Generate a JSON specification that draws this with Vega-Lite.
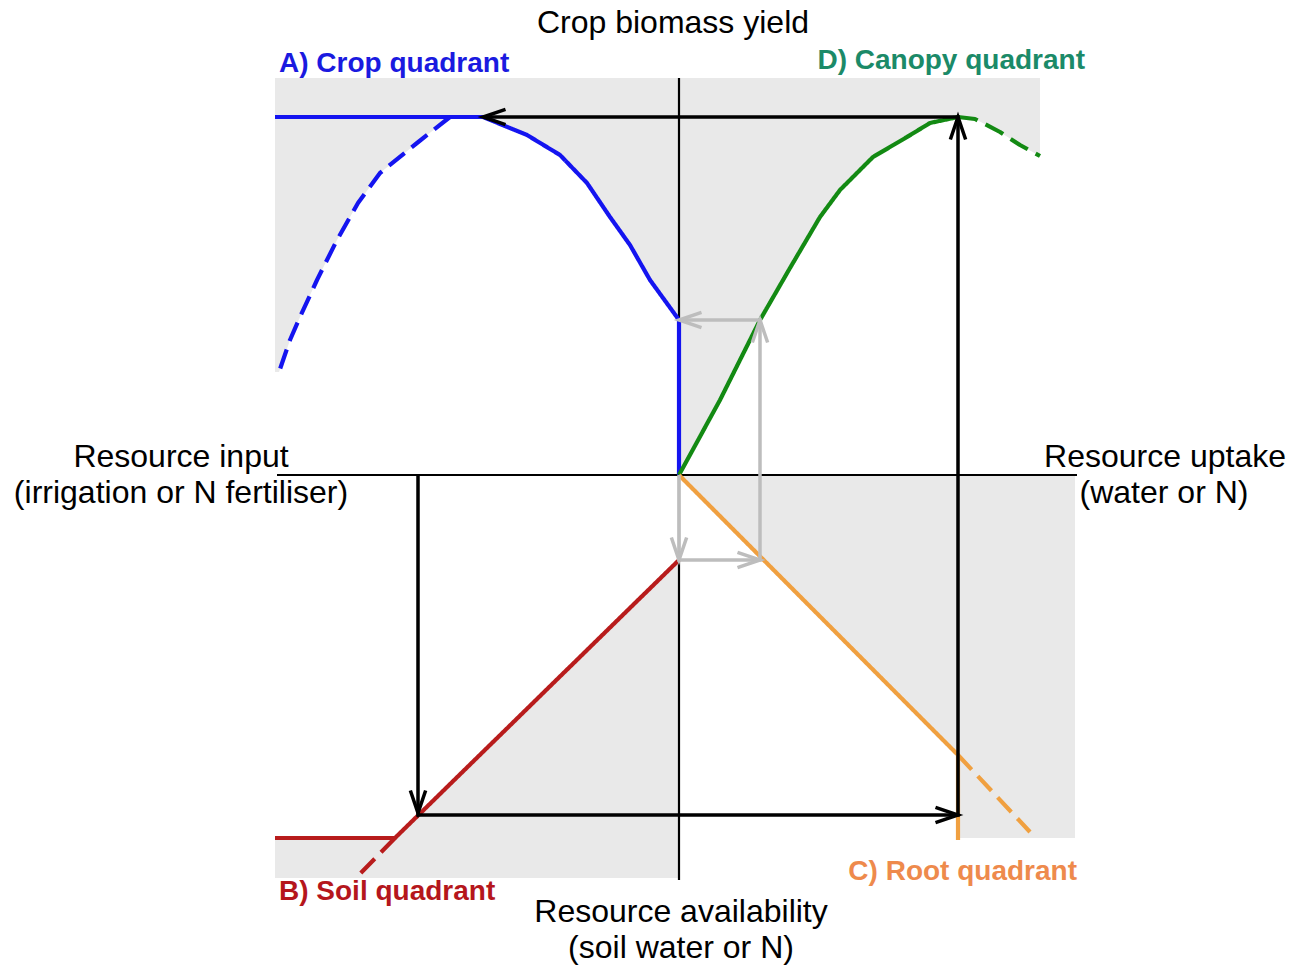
{
  "$schema": "https://vega.github.io/schema/vega-lite/v6.json",
  "width": 1303,
  "height": 967,
  "autosize": {"type": "fit", "contains": "padding"},
  "padding": 0,
  "background": "#ffffff",
  "config": {"view": {"stroke": null}, "font": "Liberation Sans"},
  "datasets": {
    "regions": [
      {"region": "A", "i": 0, "x": -404, "y": 397},
      {"region": "A", "i": 1, "x": 0, "y": 397},
      {"region": "A", "i": 2, "x": 0, "y": 155},
      {"region": "A", "i": 3, "x": -29, "y": 195},
      {"region": "A", "i": 4, "x": -49, "y": 230},
      {"region": "A", "i": 5, "x": -69, "y": 258},
      {"region": "A", "i": 6, "x": -92, "y": 292},
      {"region": "A", "i": 7, "x": -119, "y": 320},
      {"region": "A", "i": 8, "x": -152, "y": 340},
      {"region": "A", "i": 9, "x": -196, "y": 358},
      {"region": "A", "i": 10, "x": -229, "y": 358},
      {"region": "A", "i": 11, "x": -262, "y": 332},
      {"region": "A", "i": 12, "x": -299, "y": 302},
      {"region": "A", "i": 13, "x": -321, "y": 272},
      {"region": "A", "i": 14, "x": -342, "y": 235},
      {"region": "A", "i": 15, "x": -362, "y": 195},
      {"region": "A", "i": 16, "x": -379, "y": 158},
      {"region": "A", "i": 17, "x": -389, "y": 135},
      {"region": "A", "i": 18, "x": -400, "y": 103},
      {"region": "A", "i": 19, "x": -404, "y": 103},
      {"region": "D", "i": 0, "x": 0, "y": 397},
      {"region": "D", "i": 1, "x": 361, "y": 397},
      {"region": "D", "i": 2, "x": 361, "y": 319},
      {"region": "D", "i": 3, "x": 341, "y": 330},
      {"region": "D", "i": 4, "x": 321, "y": 343},
      {"region": "D", "i": 5, "x": 296, "y": 356},
      {"region": "D", "i": 6, "x": 279, "y": 358},
      {"region": "D", "i": 7, "x": 251, "y": 352},
      {"region": "D", "i": 8, "x": 228, "y": 338},
      {"region": "D", "i": 9, "x": 194, "y": 318},
      {"region": "D", "i": 10, "x": 161, "y": 285},
      {"region": "D", "i": 11, "x": 141, "y": 258},
      {"region": "D", "i": 12, "x": 111, "y": 207},
      {"region": "D", "i": 13, "x": 81, "y": 155},
      {"region": "D", "i": 14, "x": 41, "y": 75},
      {"region": "D", "i": 15, "x": 0, "y": 0},
      {"region": "C", "i": 0, "x": 0, "y": 0},
      {"region": "C", "i": 1, "x": 396, "y": 0},
      {"region": "C", "i": 2, "x": 396, "y": -363},
      {"region": "C", "i": 3, "x": 279, "y": -363},
      {"region": "C", "i": 4, "x": 279, "y": -280},
      {"region": "B", "i": 0, "x": 0, "y": -85},
      {"region": "B", "i": 1, "x": 0, "y": -403},
      {"region": "B", "i": 2, "x": -404, "y": -403},
      {"region": "B", "i": 3, "x": -404, "y": -363},
      {"region": "B", "i": 4, "x": -284, "y": -363}
    ],
    "axes": [
      {"axis": "yield", "i": 0, "x": 0, "y": 397},
      {"axis": "yield", "i": 1, "x": 0, "y": -405},
      {"axis": "resource", "i": 0, "x": -402, "y": 0},
      {"axis": "resource", "i": 1, "x": 398, "y": 0}
    ],
    "curves": [
      {"curve": "A1", "quadrant": "A", "style": "solid", "i": 0, "x": -404, "y": 358},
      {"curve": "A1", "quadrant": "A", "style": "solid", "i": 1, "x": -196, "y": 358},
      {"curve": "A1", "quadrant": "A", "style": "solid", "i": 2, "x": -152, "y": 340},
      {"curve": "A1", "quadrant": "A", "style": "solid", "i": 3, "x": -119, "y": 320},
      {"curve": "A1", "quadrant": "A", "style": "solid", "i": 4, "x": -92, "y": 292},
      {"curve": "A1", "quadrant": "A", "style": "solid", "i": 5, "x": -69, "y": 258},
      {"curve": "A1", "quadrant": "A", "style": "solid", "i": 6, "x": -49, "y": 230},
      {"curve": "A1", "quadrant": "A", "style": "solid", "i": 7, "x": -29, "y": 195},
      {"curve": "A1", "quadrant": "A", "style": "solid", "i": 8, "x": 0, "y": 155},
      {"curve": "A1", "quadrant": "A", "style": "solid", "i": 9, "x": 0, "y": 0},
      {"curve": "A2", "quadrant": "A", "style": "dashed", "i": 0, "x": -229, "y": 358},
      {"curve": "A2", "quadrant": "A", "style": "dashed", "i": 1, "x": -262, "y": 332},
      {"curve": "A2", "quadrant": "A", "style": "dashed", "i": 2, "x": -299, "y": 302},
      {"curve": "A2", "quadrant": "A", "style": "dashed", "i": 3, "x": -321, "y": 272},
      {"curve": "A2", "quadrant": "A", "style": "dashed", "i": 4, "x": -342, "y": 235},
      {"curve": "A2", "quadrant": "A", "style": "dashed", "i": 5, "x": -362, "y": 195},
      {"curve": "A2", "quadrant": "A", "style": "dashed", "i": 6, "x": -379, "y": 158},
      {"curve": "A2", "quadrant": "A", "style": "dashed", "i": 7, "x": -389, "y": 135},
      {"curve": "A2", "quadrant": "A", "style": "dashed", "i": 8, "x": -400, "y": 103},
      {"curve": "D1", "quadrant": "D", "style": "solid", "i": 0, "x": 0, "y": 0},
      {"curve": "D1", "quadrant": "D", "style": "solid", "i": 1, "x": 41, "y": 75},
      {"curve": "D1", "quadrant": "D", "style": "solid", "i": 2, "x": 81, "y": 155},
      {"curve": "D1", "quadrant": "D", "style": "solid", "i": 3, "x": 111, "y": 207},
      {"curve": "D1", "quadrant": "D", "style": "solid", "i": 4, "x": 141, "y": 258},
      {"curve": "D1", "quadrant": "D", "style": "solid", "i": 5, "x": 161, "y": 285},
      {"curve": "D1", "quadrant": "D", "style": "solid", "i": 6, "x": 194, "y": 318},
      {"curve": "D1", "quadrant": "D", "style": "solid", "i": 7, "x": 228, "y": 338},
      {"curve": "D1", "quadrant": "D", "style": "solid", "i": 8, "x": 251, "y": 352},
      {"curve": "D1", "quadrant": "D", "style": "solid", "i": 9, "x": 279, "y": 358},
      {"curve": "D2", "quadrant": "D", "style": "dashed", "i": 0, "x": 279, "y": 358},
      {"curve": "D2", "quadrant": "D", "style": "dashed", "i": 1, "x": 296, "y": 356},
      {"curve": "D2", "quadrant": "D", "style": "dashed", "i": 2, "x": 321, "y": 343},
      {"curve": "D2", "quadrant": "D", "style": "dashed", "i": 3, "x": 341, "y": 330},
      {"curve": "D2", "quadrant": "D", "style": "dashed", "i": 4, "x": 361, "y": 319},
      {"curve": "C1", "quadrant": "C", "style": "solid", "i": 0, "x": 0, "y": 0},
      {"curve": "C1", "quadrant": "C", "style": "solid", "i": 1, "x": 279, "y": -280},
      {"curve": "C1", "quadrant": "C", "style": "solid", "i": 2, "x": 279, "y": -365},
      {"curve": "C2", "quadrant": "C", "style": "dashed", "i": 0, "x": 279, "y": -280},
      {"curve": "C2", "quadrant": "C", "style": "dashed", "i": 1, "x": 351, "y": -357},
      {"curve": "B1", "quadrant": "B", "style": "solid", "i": 0, "x": 0, "y": -85},
      {"curve": "B1", "quadrant": "B", "style": "solid", "i": 1, "x": -284, "y": -363},
      {"curve": "B1", "quadrant": "B", "style": "solid", "i": 2, "x": -404, "y": -363},
      {"curve": "B2", "quadrant": "B", "style": "dashed", "i": 0, "x": -284, "y": -363},
      {"curve": "B2", "quadrant": "B", "style": "dashed", "i": 1, "x": -323, "y": -403}
    ],
    "arrows": [
      {"flow": "main", "i": 0, "x": -261, "y": 0},
      {"flow": "main", "i": 1, "x": -261, "y": -340},
      {"flow": "main", "i": 2, "x": 279, "y": -340},
      {"flow": "main", "i": 3, "x": 279, "y": 358},
      {"flow": "main", "i": 4, "x": -196, "y": 358},
      {"flow": "example", "i": 0, "x": 0, "y": 0},
      {"flow": "example", "i": 1, "x": 0, "y": -85},
      {"flow": "example", "i": 2, "x": 81, "y": -85},
      {"flow": "example", "i": 3, "x": 81, "y": 155},
      {"flow": "example", "i": 4, "x": 0, "y": 155}
    ],
    "heads": [
      {"flow": "main", "dir": "down", "x": -261, "y": -338},
      {"flow": "main", "dir": "right", "x": 279, "y": -340},
      {"flow": "main", "dir": "up", "x": 279, "y": 358},
      {"flow": "main", "dir": "left", "x": -196, "y": 358},
      {"flow": "example", "dir": "down", "x": 0, "y": -85},
      {"flow": "example", "dir": "right", "x": 81, "y": -85},
      {"flow": "example", "dir": "up", "x": 81, "y": 155},
      {"flow": "example", "dir": "left", "x": 0, "y": 155}
    ],
    "titles": [
      {"text": "Crop biomass yield", "x": -6, "y": 442},
      {"text": "Resource input", "x": -498, "y": 8},
      {"text": "(irrigation or N fertiliser)", "x": -498, "y": -28},
      {"text": "Resource uptake", "x": 486, "y": 8},
      {"text": "(water or N)", "x": 485, "y": -28},
      {"text": "Resource availability", "x": 2, "y": -447},
      {"text": "(soil water or N)", "x": 2, "y": -483}
    ],
    "labels": [
      {"text": "A) Crop quadrant", "quadrant": "A", "side": "left", "x": -400, "y": 403},
      {"text": "B) Soil quadrant", "quadrant": "B", "side": "left", "x": -400, "y": -425},
      {"text": "C) Root quadrant", "quadrant": "C", "side": "right", "x": 398, "y": -405},
      {"text": "D) Canopy quadrant", "quadrant": "D", "side": "right", "x": 406, "y": 406}
    ]
  },
  "resolve": {"scale": {"color": "independent", "strokeDash": "independent"}},
  "layer": [
    {
      "data": {"name": "regions"},
      "mark": {"type": "line", "filled": true, "fill": "#e9e9e9", "strokeWidth": 0},
      "encoding": {
        "x": {"field": "x", "type": "quantitative", "scale": {"domain": [-679, 624], "nice": false, "zero": false}, "axis": null},
        "y": {"field": "y", "type": "quantitative", "scale": {"domain": [-492, 475], "nice": false, "zero": false}, "axis": null},
        "detail": {"field": "region", "type": "nominal"},
        "order": {"field": "i", "type": "quantitative"}
      }
    },
    {
      "data": {"name": "axes"},
      "mark": {"type": "line", "color": "#000000", "strokeWidth": 2.2},
      "encoding": {
        "x": {"field": "x", "type": "quantitative", "scale": {"domain": [-679, 624], "nice": false, "zero": false}, "axis": null},
        "y": {"field": "y", "type": "quantitative", "scale": {"domain": [-492, 475], "nice": false, "zero": false}, "axis": null},
        "detail": {"field": "axis", "type": "nominal"},
        "order": {"field": "i", "type": "quantitative"}
      }
    },
    {
      "data": {"name": "curves"},
      "mark": {"type": "line", "strokeWidth": 4.2, "strokeJoin": "round"},
      "encoding": {
        "x": {"field": "x", "type": "quantitative", "scale": {"domain": [-679, 624], "nice": false, "zero": false}, "axis": null},
        "y": {"field": "y", "type": "quantitative", "scale": {"domain": [-492, 475], "nice": false, "zero": false}, "axis": null},
        "color": {"field": "quadrant", "type": "nominal", "scale": {"domain": ["A", "B", "C", "D"], "range": ["#1414f0", "#b81c1c", "#f0a040", "#138a13"]}, "legend": null},
        "strokeDash": {"field": "style", "type": "nominal", "scale": {"domain": ["solid", "dashed"], "range": [[1, 0], [20, 9]]}, "legend": null},
        "detail": {"field": "curve", "type": "nominal"},
        "order": {"field": "i", "type": "quantitative"}
      }
    },
    {
      "data": {"name": "arrows"},
      "mark": {"type": "line", "strokeWidth": 3.5, "strokeJoin": "miter"},
      "encoding": {
        "x": {"field": "x", "type": "quantitative", "scale": {"domain": [-679, 624], "nice": false, "zero": false}, "axis": null},
        "y": {"field": "y", "type": "quantitative", "scale": {"domain": [-492, 475], "nice": false, "zero": false}, "axis": null},
        "color": {"field": "flow", "type": "nominal", "scale": {"domain": ["main", "example"], "range": ["#000000", "#bdbdbd"]}, "legend": null},
        "detail": {"field": "flow", "type": "nominal"},
        "order": {"field": "i", "type": "quantitative"}
      }
    },
    {
      "data": {"name": "heads"},
      "encoding": {
        "x": {"field": "x", "type": "quantitative", "scale": {"domain": [-679, 624], "nice": false, "zero": false}, "axis": null},
        "y": {"field": "y", "type": "quantitative", "scale": {"domain": [-492, 475], "nice": false, "zero": false}, "axis": null},
        "color": {"field": "flow", "type": "nominal", "scale": {"domain": ["main", "example"], "range": ["#000000", "#bdbdbd"]}, "legend": null}
      },
      "layer": [
        {"transform": [{"filter": "datum.dir === 'down'"}], "mark": {"type": "point", "shape": "M-0.34,-1L0,0L0.34,-1", "size": 2025, "filled": false, "strokeWidth": 3.5, "opacity": 1, "angle": 0}},
        {"transform": [{"filter": "datum.dir === 'left'"}], "mark": {"type": "point", "shape": "M-0.34,-1L0,0L0.34,-1", "size": 2025, "filled": false, "strokeWidth": 3.5, "opacity": 1, "angle": 90}},
        {"transform": [{"filter": "datum.dir === 'up'"}], "mark": {"type": "point", "shape": "M-0.34,-1L0,0L0.34,-1", "size": 2025, "filled": false, "strokeWidth": 3.5, "opacity": 1, "angle": 180}},
        {"transform": [{"filter": "datum.dir === 'right'"}], "mark": {"type": "point", "shape": "M-0.34,-1L0,0L0.34,-1", "size": 2025, "filled": false, "strokeWidth": 3.5, "opacity": 1, "angle": 270}}
      ]
    },
    {
      "data": {"name": "titles"},
      "mark": {"type": "text", "font": "Liberation Sans", "fontSize": 32, "align": "center", "baseline": "alphabetic", "color": "#000000"},
      "encoding": {
        "x": {"field": "x", "type": "quantitative", "scale": {"domain": [-679, 624], "nice": false, "zero": false}, "axis": null},
        "y": {"field": "y", "type": "quantitative", "scale": {"domain": [-492, 475], "nice": false, "zero": false}, "axis": null},
        "text": {"field": "text"}
      }
    },
    {
      "data": {"name": "labels"},
      "encoding": {
        "x": {"field": "x", "type": "quantitative", "scale": {"domain": [-679, 624], "nice": false, "zero": false}, "axis": null},
        "y": {"field": "y", "type": "quantitative", "scale": {"domain": [-492, 475], "nice": false, "zero": false}, "axis": null},
        "text": {"field": "text"},
        "color": {"field": "quadrant", "type": "nominal", "scale": {"domain": ["A", "B", "C", "D"], "range": ["#1a1ae0", "#b5161c", "#ee8a4c", "#1b8a68"]}, "legend": null}
      },
      "layer": [
        {"transform": [{"filter": "datum.side === 'left'"}], "mark": {"type": "text", "font": "Liberation Sans", "fontWeight": "bold", "fontSize": 28, "align": "left", "baseline": "alphabetic"}},
        {"transform": [{"filter": "datum.side === 'right'"}], "mark": {"type": "text", "font": "Liberation Sans", "fontWeight": "bold", "fontSize": 28, "align": "right", "baseline": "alphabetic"}}
      ]
    }
  ]
}
